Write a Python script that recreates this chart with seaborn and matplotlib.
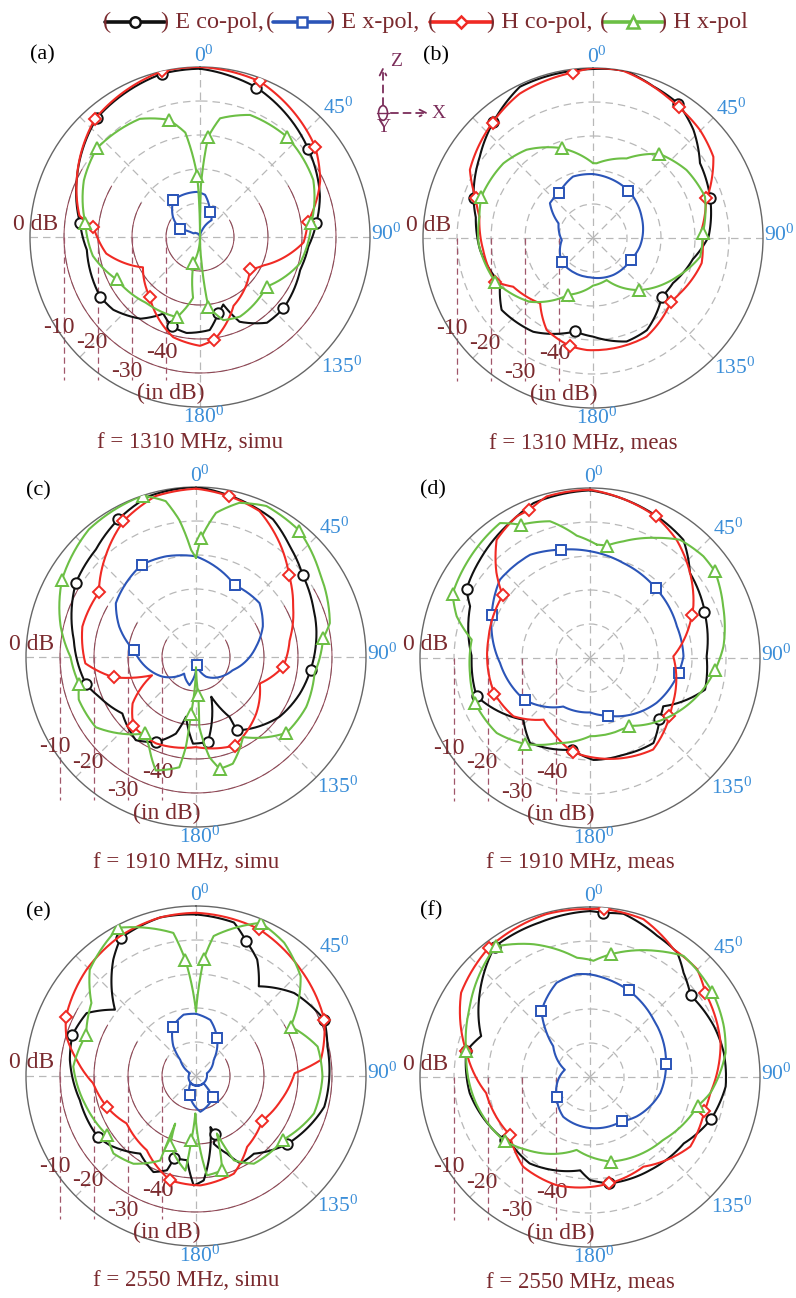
import numpy as np
import pandas as pd
import seaborn as sns
import matplotlib
matplotlib.use("Agg")
import matplotlib.pyplot as plt
from matplotlib.lines import Line2D
from matplotlib.patches import FancyArrowPatch, Circle

# traces: (angle in degrees clockwise from top, level in dB), in drawing order
# marker lists: angles (taken from the trace) where a symbol sits

# (a) 1310 MHz simulated
A_ECO = [(0, -0.5), (20.7, -3), (51, -9), (71, -12.7), (83, -15.5), (95, -18), (108, -19), (130.6, -17.7),
         (142, -18), (155, -22.5), (161, -29), (166.5, -27), (174, -22.5), (188, -21.5), (197.5, -22.4),
         (205.6, -25), (216, -20.3), (230, -16.7), (239, -15.8), (263.5, -16.5), (276.5, -14.5), (295, -10),
         (319, -3.7), (347, -0.7), (360, -0.5)]
A_ECO_MK = [347, 20.7, 51, 83, 130.6, 166.5, 197.5, 239, 276.5, 319]
A_EX = [(0, -50), (17, -48), (34.5, -44), (21.5, -42), (6.8, -37.5), (-4, -36.7), (-23.6, -36.6), (-36, -36.6),
        (-53, -40), (-68, -43.6), (-61, -47.8), (0, -50)]
A_EX_MK = [21.5, -36, -68]
A_HCO = [(0, 0), (21, -1), (52, -7), (65, -11), (82, -18), (93, -19.5), (114, -29.5), (123, -32.5), (154, -27.5),
         (172, -19.5), (180, -18), (195, -19.5), (220, -27), (242, -31), (260, -22), (275.5, -18.5), (280, -14),
         (295, -10), (318.5, -3.5), (347, 0), (360, 0)]
A_HCO_MK = [347, 21, 52, 82, 123, 172, 220, 275.5, 318.5]
A_HX = [(0, -50), (1, -35), (4.7, -20.4), (9.6, -14.6), (22.3, -11.2), (40.8, -11), (63.3, -12.7), (83, -17),
        (104.8, -19.6), (126.7, -25.6), (153.3, -23.8), (164.3, -24.6), (173.2, -29.4), (176.4, -42), (180, -50),
        (194, -42), (186.5, -32), (196, -25.5), (219, -25), (243, -22.5), (260, -18), (277, -16), (296, -12),
        (310.6, -10), (333, -11), (345, -14.3), (352, -19), (357.4, -32), (360, -50)]
A_HX_MK = [4.7, 40.8, 83, 126.7, 173.2, 194, 196, 243, 277, 310.6, 345, 357.4]

# (b) 1310 MHz measured
B_ECO = [(0, -0.3), (6.9, 0), (11.3, 0), (21.7, -2), (32.5, -3.2), (42.9, -6.6), (55, -11.6), (71.3, -13.6),
         (89.3, -16), (102, -20), (119.4, -23), (130.5, -23.4), (149.7, -18.6), (162, -18), (180, -21),
         (190.9, -22), (212.5, -17.3), (231.8, -15.8), (244, -19.6), (264, -16.6), (280, -15), (288.3, -13),
         (305.7, -9), (319.4, -5), (334.2, -0.6), (351, -0.5), (360, -0.3)]
B_ECO_MK = [32.5, 71.3, 130.5, 190.9, 288.3, 319.4]
B_EX = [(0, -31.2), (36.7, -32.6), (66.3, -34.4), (100.4, -36), (120, -37.2), (151, -37.6), (184, -38.4),
        (215.7, -38.4), (233, -38.4), (266, -40.8), (293, -39), (309, -33.7), (323.4, -33.4), (342, -31),
        (360, -31.2)]
B_EX_MK = [36.7, 120, 233, 323.4]
B_HCO = [(0, 0), (10, 0), (27.5, -3.1), (33.3, -4), (44.7, -5.3), (56, -7.3), (67.7, -13), (70.7, -14.8),
         (85.8, -18), (103, -17.2), (122.5, -19.7), (129.2, -20.4), (151.5, -17), (183, -17), (192, -17.5),
         (206.7, -19.7), (219, -25.3), (238.6, -22.5), (246, -18.5), (263.8, -17.5), (280.7, -16),
         (288.7, -13.6), (299, -8.6), (319, -5), (333, -2.4), (353, -1), (360, 0)]
B_HCO_MK = [353, 33.3, 70.7, 129.2, 192, 246, 288.7, 319]
B_HX = [(0, -28), (2.8, -28), (22.9, -24.6), (38.3, -18.5), (54, -16), (69.7, -14.9), (87.6, -17.7),
        (99.9, -18), (114.8, -22.8), (138.3, -29.5), (162, -37), (180, -36), (203.4, -31.8), (224.7, -23.6),
        (246, -18.5), (267.3, -16.3), (280.7, -16), (290.4, -15), (309.8, -15.7), (323, -17.5), (340.7, -22),
        (360, -28)]
B_HX_MK = [38.3, 87.6, 138.3, 203.4, 246, 290.4, 340.7]

# (c) 1910 MHz simulated
C_ECO = [(0, 0), (11.6, -1.5), (29.2, -3.6), (40.2, -7.3), (52.3, -10.4), (66.7, -12.5), (77.3, -13.7),
         (96.5, -16.1), (109.4, -17.6), (125.6, -19.8), (150.9, -25.3), (150.8, -29.8), (159, -37.5), (172, -24.8),
         (182, -24.5), (189.5, -32.2), (194.7, -26.7), (205.3, -22.3), (215.9, -19.8), (232.5, -22.7),
         (247.7, -19.2), (256, -16.7), (278, -13.7), (301.5, -8.5), (317, -6.8), (330.6, -3.5), (343.8, -0.7),
         (360, 0)]
C_ECO_MK = [52.3, 96.5, 150.9, 172, 205.3, 256, 301.5, 330.6]
C_EX = [(0, -20.4), (28.3, -26), (49.7, -25.5), (65.5, -28.4), (80, -32), (109.5, -38.5), (153, -43.5),
        (175, -47.6), (193, -41.5), (215.5, -44), (239.5, -38.6), (276, -31.7), (291.6, -25.7), (303.9, -21.6),
        (329.6, -18.5), (343.4, -19.1), (360, -20.4)]
C_EX_MK = [28.3, 175, 276, 329.6]
C_HCO = [(0, -0.5), (11.5, -1.7), (23.5, -3.2), (36.2, -8.4), (48.5, -13.5), (62.5, -17.8), (79.7, -22),
         (96.4, -24.2), (112.6, -29.7), (133.2, -25.7), (156.5, -21.6), (180, -23.5), (204.9, -22), (222, -22.5),
         (233.8, -26.9), (247.4, -36), (256, -25.2), (266.7, -17.4), (285, -15.4), (303.6, -15.7), (318, -10.2),
         (331.9, -4.7), (346, -1.2), (360, -0.5)]
C_HCO_MK = [11.5, 48.5, 96.4, 156.5, 222, 256, 303.6, 331.9]
C_HX = [(0, -20.9), (2.4, -15), (7.9, -7.2), (15.7, -2.9), (25, -1), (39.2, -2), (55.8, -6), (75.8, -9.4),
        (81.6, -12.2), (97.9, -14.8), (114.3, -14.4), (130, -15.3), (149.6, -22.7), (161, -16.8), (168, -16.4),
        (172.4, -20.3), (177.3, -29.4), (176.5, -38.8), (180, -47), (185, -33.3), (186.4, -23.4), (188.6, -17.2),
        (199.5, -14.6), (207.5, -20.2), (213.6, -23), (235, -14), (250, -13.3), (257, -14.7), (270, -13.1),
        (282.7, -9.2), (300, -4.5), (320, -1), (341.8, 0), (349, -3.3), (353, -9.3), (357.3, -18.4), (360, -20.9)]
C_HX_MK = [2.4, 39.2, 81.6, 130, 168, 176.5, 185, 213.6, 257, 300, 341.8]

# (d) 1910 MHz measured
D_ECO = [(0, -0.7), (25.2, -3.9), (38.3, -5.7), (49.6, -11.4), (65.5, -13.3), (68, -13.7), (89, -15.7),
         (105.4, -14.9), (123.4, -24.2), (131.3, -22.8), (143.3, -18.8), (161, -19.9), (178, -20), (191.3, -22.5),
         (215.2, -19.4), (227.2, -23.3), (244.2, -17.3), (251.3, -14.8), (270.8, -15.2), (293.3, -11.6),
         (299.2, -8.4), (311.8, -6.6), (331, -3.5), (340, -1.5), (360, -0.7)]
D_ECO_MK = [68, 131.3, 191.3, 251.3, 299.2]
D_EX = [(0, -18.6), (19.3, -20.4), (43.2, -21.8), (70, -22.8), (89, -22.5), (99.6, -23.6), (124, -26.4),
        (162.4, -32.2), (180, -34), (208.9, -33.7), (237, -27.2), (266.8, -23.5), (293.8, -18.4), (311, -14.9),
        (329.9, -14.9), (344.8, -17), (360, -18.6)]
D_EX_MK = [344.8, 43.2, 99.6, 162.4, 237, 293.8]
D_HCO = [(0, -0.5), (24.9, -4.1), (36.2, -6.9), (52.4, -12.3), (63.4, -16), (67.2, -17.5), (88.9, -25.5),
         (120.6, -22), (126.3, -21), (145.4, -17.3), (176, -20.5), (190.4, -21.9), (206, -25.5), (217, -27.3),
         (232.7, -21.7), (249.6, -20), (280.2, -19.6), (305.7, -18.4), (312.3, -12.8), (321.7, -5.7),
         (332.6, -3.1), (337.7, -3), (345, -0.8), (360, -0.5)]
D_HCO_MK = [24.9, 67.2, 126.3, 190.4, 249.6, 305.7, 337.7]
D_HX = [(3.4, -16.6), (8.4, -16.6), (16, -14.3), (29, -9.6), (37.3, -6.3), (48.1, -5.2), (55.3, -5.3),
        (68.8, -8), (85, -10.6), (95.3, -13), (107.6, -16), (130, -21.9), (150, -27), (180, -27), (201.4, -23.1),
        (217.2, -18.3), (231.2, -14.8), (248.6, -13.7), (262.9, -14.4), (278.8, -14.8), (287.4, -8.9),
        (295, -5.4), (307.6, -4.2), (326.3, -2.3), (332.5, -5.8), (343.7, -8.1), (353.8, -13.8), (363.4, -16.6)]
D_HX_MK = [8.4, 55.3, 95.3, 150, 217.2, 248.6, 295, 332.5]

# (e) 2550 MHz simulated
E_ECO = [(0, -2.5), (13.9, -3.5), (20.4, -7.7), (27.7, -11.3), (35, -17.8), (49.8, -12.2), (66.3, -8.8),
         (77.4, -10.4), (103.5, -11.2), (127, -16.6), (143.3, -21.5), (153, -21.1), (158.2, -25.4),
         (165.3, -29.4), (161.4, -32.1), (164.2, -34.4), (175.8, -19.2), (181.2, -17.8), (186, -25.1),
         (194.9, -25.1), (197.1, -21), (203.9, -19.1), (215.7, -21.9), (231.2, -17.5), (238.2, -16),
         (258.3, -15.1), (277.3, -12.6), (288.4, -11.7), (299.9, -12.9), (309.3, -19.2), (324.6, -8),
         (331.3, -3.8), (347.3, -2.2), (360, -2.5)]
E_ECO_MK = [20.4, 66.3, 127, 161.4, 194.9, 238.2, 288.4, 331.3]
E_EX = [(0, -31.7), (14.4, -33), (28.7, -37.1), (47.8, -43), (76, -46.7), (217.7, -47.3), (198.4, -44.1),
        (173, -39.4), (142, -42), (133.7, -46.9), (295, -48), (315.6, -43.4), (322.7, -39), (334.7, -33.9),
        (348.6, -31.6), (360, -31.7)]
E_EX_MK = [28.7, 198.4, 142, 334.7]
E_HCO = [(0, -2), (23.2, -3), (44.5, -6.1), (66.3, -8.8), (82.7, -13), (88.4, -21), (105.9, -24), (124, -26.5),
         (144.2, -24.3), (158.8, -19.2), (177.7, -17.8), (193.9, -18.4), (213.5, -23.8), (235.5, -25.3),
         (250.5, -22.3), (265.9, -19.7), (277.7, -14.6), (287, -10.1), (294.3, -8), (314.2, -5.1),
         (331.5, -3.2), (347.3, -2.2), (360, -2)]
E_HCO_MK = [23.2, 66.3, 124, 193.9, 250.5, 294.3]
E_HX = [(0, -31), (3.8, -15.5), (7.2, -8.5), (22.9, -1.1), (33.5, -3), (46.4, -7.5), (62.4, -18.6),
        (76.4, -13.2), (90.3, -12.8), (107.6, -13.6), (126, -18.2), (146.6, -19.1), (155.8, -22.8), (160, -32),
        (164.5, -21.2), (173.7, -20.6), (181, -39), (184.2, -31), (186.4, -22), (200.4, -28.3), (203.6, -34.7),
        (203, -23), (215.5, -18.3), (226.8, -16.7), (236.3, -18.6), (254.3, -16.5), (274.4, -13.8),
        (290.5, -15.5), (304.9, -12.5), (315, -5.8), (332.4, -0.8), (351, -7.4), (354.7, -15.6), (360, -31)]
E_HX_MK = [3.8, 22.9, 62.4, 126, 164.5, 184.2, 200.4, 236.3, 290.5, 332.4, 354.7]

# (f) 2550 MHz measured
F_ECO = [(0, -1.2), (4.7, -1.6), (11.6, -1), (25.4, -4), (35, -5.3), (41.9, -8.8), (50.9, -11.9), (67.7, -10.6),
         (79.8, -10), (94, -10), (109.2, -12.3), (125.3, -16.2), (147, -17.4), (169.7, -18.2), (180, -19.7),
         (186, -22.4), (214.9, -19), (227.9, -19.5), (233.6, -18.8), (262.4, -14.3), (281.8, -12.8),
         (290.6, -15.8), (307.4, -9.2), (323.8, -2.5), (342, -2.2), (360, -1.2)]
F_ECO_MK = [4.7, 50.9, 109.2, 169.7, 233.6, 281.8, 323.8]
F_EX = [(0, -19.8), (24, -22.1), (47.8, -24.8), (80, -27.3), (102.9, -28.8), (130, -32), (144.5, -34),
        (172.6, -34.8), (214, -35.9), (238.6, -38.5), (271.3, -41.1), (286, -42.3), (309.9, -35.9),
        (323.6, -25.9), (340.5, -20.6), (352.6, -19.5), (360, -19.8)]
F_EX_MK = [24, 80, 144.5, 238.6, 323.6]
F_HCO = [(0, -0.6), (4.6, -0.4), (18.7, -1), (33.2, -5.1), (44.8, -5.3), (53.9, -8), (75.3, -10.3),
         (97.6, -14.3), (106.8, -14.9), (124.7, -14.1), (149.2, -19.3), (169.7, -18.2), (197.2, -16.7),
         (216.7, -17.1), (234.2, -20.9), (261.2, -19.1), (281.8, -12.8), (303.2, -4.7), (322, -1.7),
         (345, -0.4), (360, -0.6)]
F_HCO_MK = [4.6, 53.9, 106.8, 169.7, 234.2, 281.8, 322]
F_HX = [(0, -15.5), (1.7, -15.8), (9.6, -13.4), (28, -8), (37.7, -5), (55.2, -6.2), (69.2, -7.9), (79.9, -9.5),
        (97.6, -14.3), (105, -17.2), (130.5, -21.6), (166.2, -24.4), (190.4, -28.2), (221, -21.6),
        (233.2, -18.6), (257, -15.6), (281.8, -12.8), (299.3, -9.3), (324.1, -2.6), (336.8, -7.5),
        (353.6, -14.7), (360, -15.5)]
F_HX_MK = [9.6, 55.2, 105, 166.2, 233.2, 281.8, 324.1]

SERIES = ["E co-pol,", "E x-pol,", "H co-pol,", "H x-pol"]
RING_DB = [-40, -30, -20, -10]

sns.set_style("white")
plt.rcParams["font.family"] = ["Liberation Serif", "DejaVu Serif"]

W, H = 796, 1298
R = 170
MAROON = "#7a2a2e"
TICKBLUE = "#3b8ed8"
AXCOL = "#7b2d5a"
COLORS = ["#111111", "#2b55b8", "#f02a24", "#6cbf45"]
MARKERS = ["o", "s", "D", "^"]
MSIZE = [7.5, 7, 6.5, 8]

fig = plt.figure(figsize=(W / 100, H / 100), dpi=100)


def fx(x):
    return x / W


def fy(y):
    return 1 - y / H


def ptext(ax, dx, dy, s, **kw):
    ax.text(0.5 + dx / (2 * R), 0.5 - dy / (2 * R), s, transform=ax.transAxes, **kw)


def draw_trace(ax, pts, marks, i):
    df = pd.DataFrame(pts, columns=["ang", "db"])
    df["theta"] = np.deg2rad(df["ang"])
    every = [k for k, a in enumerate(df["ang"]) if any(abs(a - m) < 1e-9 for m in marks)]
    sns.lineplot(data=df, x="theta", y="db", ax=ax, sort=False, estimator=None,
                 color=COLORS[i], linewidth=1.5, marker=MARKERS[i], markevery=every,
                 markersize=MSIZE[i], markerfacecolor="white", markeredgecolor=COLORS[i],
                 markeredgewidth=1.4, zorder=5 + i)
    # let the polar transform draw each segment as a curve in (theta, r)
    ax.lines[-1].get_path()._interpolation_steps = 64


def panel(letter, cx, cy, title, rings, traces, letter_dy):
    ax = fig.add_axes([fx(cx - R), fy(cy + R), 2 * R / W, 2 * R / H], projection="polar")
    ax.set_facecolor("none")
    ax.set_theta_zero_location("N")
    ax.set_theta_direction(-1)
    for k, (pts, marks) in enumerate(traces):
        draw_trace(ax, pts, marks, k)
    ax.set_ylim(-50, 0)
    ax.set_yticks(RING_DB)
    ax.set_yticklabels([])
    ax.set_xticks(np.deg2rad(np.arange(0, 360, 45)))
    ax.set_xticklabels([])
    ax.set_xlabel("")
    ax.set_ylabel("")
    ax.grid(True, color="#b8b8b8", linestyle=(0, (6, 4)), linewidth=0.9)
    ax.spines["polar"].set_color("#666666")
    ax.spines["polar"].set_linewidth(1.0)
    if rings:
        arc = np.deg2rad(np.linspace(60, 300, 200))
        for lvl in RING_DB:
            ax.plot(arc, np.full(arc.shape, lvl), color="#8e3f4e", lw=0.7, zorder=1)
    # dashed drop lines from each ring
    for lvl in RING_DB:
        x = 0.5 - 0.5 * (lvl + 50) / 50
        ax.plot([x, x], [0.5, 0.5 - 143 / 340], transform=ax.transAxes, color="#a0566a",
                lw=0.9, ls=(0, (5, 3)), clip_on=False, zorder=1)

    lab = dict(color=TICKBLUE, fontsize=15.5, ha="center", va="center")
    ptext(ax, 4, -181, r"$\mathregular{0^0}$", **lab)
    ptext(ax, 138, -129, r"$\mathregular{45^0}$", **lab)
    ptext(ax, 186, -3, r"$\mathregular{90^0}$", **lab)
    ptext(ax, 142, 130, r"$\mathregular{135^0}$", **lab)
    ptext(ax, 4, 180, r"$\mathregular{180^0}$", **lab)

    dk = dict(color=MAROON, fontsize=17, ha="center", va="center")
    ptext(ax, -164, -13, "0 dB", **dk)
    ptext(ax, -141, 90, "-10", **dk)
    ptext(ax, -108, 105, "-20", **dk)
    ptext(ax, -73, 134, "-30", **dk)
    ptext(ax, -38, 115, "-40", **dk)
    ptext(ax, -29, 156, "(in dB)", **dk)
    ptext(ax, -10, 205, title, color=MAROON, fontsize=16.5, ha="center", va="center")
    ptext(ax, -170, letter_dy, letter, color="black", fontsize=16, ha="left", va="center")


panel("(a)", 200, 237, "f = 1310 MHz, simu", True,
      [(A_ECO, A_ECO_MK), (A_EX, A_EX_MK), (A_HCO, A_HCO_MK), (A_HX, A_HX_MK)], -182)
panel("(b)", 593, 238, "f = 1310 MHz, meas", False,
      [(B_ECO, B_ECO_MK), (B_EX, B_EX_MK), (B_HCO, B_HCO_MK), (B_HX, B_HX_MK)], -182)
panel("(c)", 196, 657, "f = 1910 MHz, simu", True,
      [(C_ECO, C_ECO_MK), (C_EX, C_EX_MK), (C_HCO, C_HCO_MK), (C_HX, C_HX_MK)], -166)
panel("(d)", 590, 658, "f = 1910 MHz, meas", False,
      [(D_ECO, D_ECO_MK), (D_EX, D_EX_MK), (D_HCO, D_HCO_MK), (D_HX, D_HX_MK)], -168)
panel("(e)", 196, 1076, "f = 2550 MHz, simu", True,
      [(E_ECO, E_ECO_MK), (E_EX, E_EX_MK), (E_HCO, E_HCO_MK), (E_HX, E_HX_MK)], -164)
panel("(f)", 590, 1077, "f = 2550 MHz, meas", False,
      [(F_ECO, F_ECO_MK), (F_EX, F_EX_MK), (F_HCO, F_HCO_MK), (F_HX, F_HX_MK)], -166)

# legend strip across the top: "(" handle ") label"
leg_open = [103, 266, 428, 600]
leg_line = [(105, 165), (273, 330), (430, 492), (603, 663)]
leg_close = [161, 327, 487, 659]
ly = 22
for k, name in enumerate(SERIES):
    fig.text(fx(leg_open[k]), fy(ly), "(", color=MAROON, fontsize=17.5, ha="left", va="center")
    x0, x1 = leg_line[k]
    fig.add_artist(Line2D([fx(x0), fx(x1)], [fy(ly), fy(ly)], color=COLORS[k], lw=2.6,
                          transform=fig.transFigure))
    fig.add_artist(Line2D([fx((x0 + x1) / 2)], [fy(ly)], color=COLORS[k], marker=MARKERS[k],
                          markersize=MSIZE[k], markerfacecolor="white", markeredgewidth=1.8,
                          transform=fig.transFigure))
    fig.text(fx(leg_close[k]), fy(ly), ") " + name, color=MAROON, fontsize=17.5, ha="left", va="center")

# coordinate triad between (a) and (b)
ox, oy = 383, 113
fig.add_artist(FancyArrowPatch((fx(ox), fy(oy - 5)), (fx(ox), fy(64)), transform=fig.transFigure,
                               arrowstyle="->", mutation_scale=12, color=AXCOL, lw=1.3, ls=(0, (4, 3))))
fig.add_artist(FancyArrowPatch((fx(ox + 5), fy(oy)), (fx(431), fy(oy)), transform=fig.transFigure,
                               arrowstyle="->", mutation_scale=12, color=AXCOL, lw=1.3, ls=(0, (4, 3))))
fig.add_artist(Circle((fx(ox), fy(oy)), 4.5 / W, transform=fig.transFigure, fill=False, color=AXCOL, lw=1.2))
fig.add_artist(Line2D([fx(ox - 6), fx(ox + 6)], [fy(oy), fy(oy)], color=AXCOL, lw=1.0,
                      transform=fig.transFigure))
fig.text(fx(396), fy(61), "Z", color=AXCOL, fontsize=14, ha="center", va="center")
fig.text(fx(439), fy(113), "X", color=AXCOL, fontsize=14, ha="center", va="center")
fig.text(fx(384), fy(128), "Y", color=AXCOL, fontsize=14, ha="center", va="center")

fig.savefig("out.png", dpi=100)
